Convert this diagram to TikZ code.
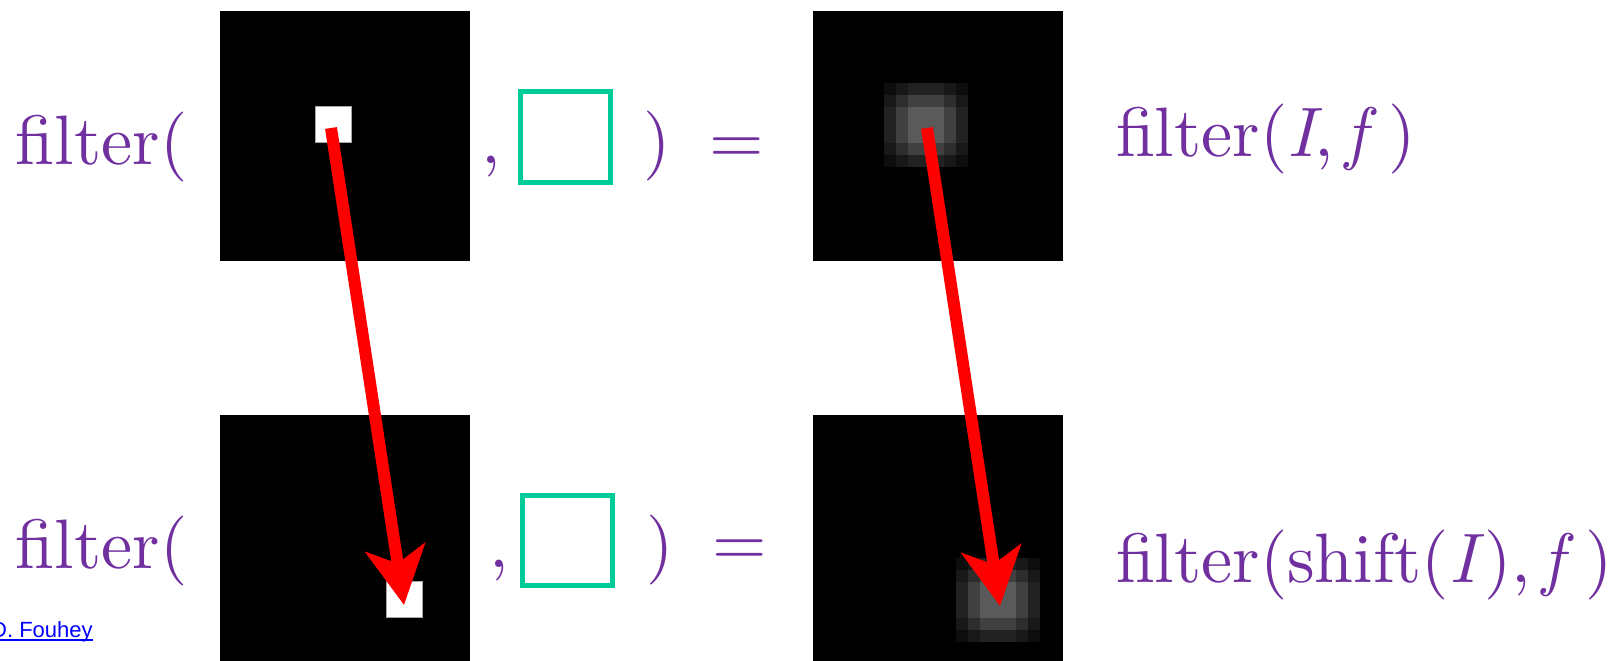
\documentclass[tikz,border=0pt]{standalone}
\usepackage{fontspec}
\newfontfamily\linkfont{Liberation Sans}
\newfontfamily\eqfont{lmroman10}[Extension=.otf,UprightFont=*-regular,ItalicFont=*-italic]
\usetikzlibrary{arrows.meta}
\definecolor{eqpurple}{HTML}{7030A0}
\definecolor{kernelgreen}{HTML}{00CC99}
\definecolor{linkblue}{HTML}{0000FF}

% 7x7 block of 12pt cells: a 3x3 white square after box-like smoothing
\newcommand\blurpatch[2]{%
  \foreach \i/\wi in {0/0.38,1/0.71,2/1,3/1,4/1,5/0.71,6/0.38}{%
    \foreach \j/\wj in {0/0.38,1/0.71,2/1,3/1,4/1,5/0.71,6/0.38}{%
      \pgfmathtruncatemacro\g{round(90*\wi*\wj)}%
      \definecolor{blurcell}{RGB}{\g,\g,\g}%
      \fill[blurcell] (#1+12*\i,#2+12*\j) rectangle ++(12,12);
    }%
  }%
}

\begin{document}
\begin{tikzpicture}[x=1pt,y=-1pt,
  eqtext/.style={text=eqpurple,font=\eqfont\fontsize{70}{84}\selectfont,inner sep=0pt,outer sep=0pt},
  img/.style={fill=black,draw=none,minimum size=250pt,inner sep=0pt,outer sep=0pt},
  pix/.style={fill=white,draw=gray!70,line width=0.8pt,minimum size=36pt,inner sep=0pt},
  kernel/.style={draw=kernelgreen,line width=5pt,minimum size=90pt,inner sep=0pt},
  shiftarrow/.style={draw=red,line width=12pt,-{Stealth[length=58pt,width=60pt,inset=16pt]}}
]
\fill[white] (0,0) rectangle (1615,661);
\useasboundingbox (0,0) rectangle (1615,661);

% input images
\node[img] (in1) at (345,136) {};
\node[img] (in2) at (345,540) {};
\node[pix] (p1) at (333,124) {};
\node[pix] (p2) at (404,599) {};

% output images
\node[img] (out1) at (938,136) {};
\node[img] (out2) at (938,540) {};
\blurpatch{884}{83}
\blurpatch{956}{558}

% filter kernels
\node[kernel] (k1) at (565.5,137) {};
\node[kernel] (k2) at (567.5,540) {};

% equation text
\node[eqtext,anchor=base west] (lhs1) at (16,164) {filter(};
\node[eqtext,anchor=base west] (lhs2) at (16,568) {filter(};
\node[eqtext,anchor=base] (cm1) at (491,163) {,};
\node[eqtext,anchor=base] (cm2) at (499,567) {,};
\node[eqtext,anchor=base] (cp1) at (657,163) {)};
\node[eqtext,anchor=base] (cp2) at (660,567) {)};
\node[eqtext,anchor=base] (eq1) at (737,163) {=};
\node[eqtext,anchor=base] (eq2) at (740,565) {=};
\node[eqtext,anchor=base west] (rhs1) at (1116,156) {filter(\textit{I},\,\textit{f}\,)};
\node[eqtext,anchor=base west] (rhs2) at (1116,582) {filter(shift(\textit{I}),\,\textit{f}\,)};

% shift arrows
\coordinate (s1) at (331,128);
\coordinate (t1) at (404,605);
\coordinate (s2) at (927,128);
\coordinate (t2) at (1000,606);
\draw[shiftarrow] (s1) -- (t1);
\draw[shiftarrow] (s2) -- (t2);

% credit
\node[anchor=base west,inner sep=0pt,text=linkblue,font=\linkfont\fontsize{22}{26}\selectfont] (credit) at (-9,637) {D. Fouhey};
\draw[linkblue,line width=1.5pt] ([yshift=-3pt]credit.base west) -- ([yshift=-3pt]credit.base east);
\end{tikzpicture}
\end{document}
